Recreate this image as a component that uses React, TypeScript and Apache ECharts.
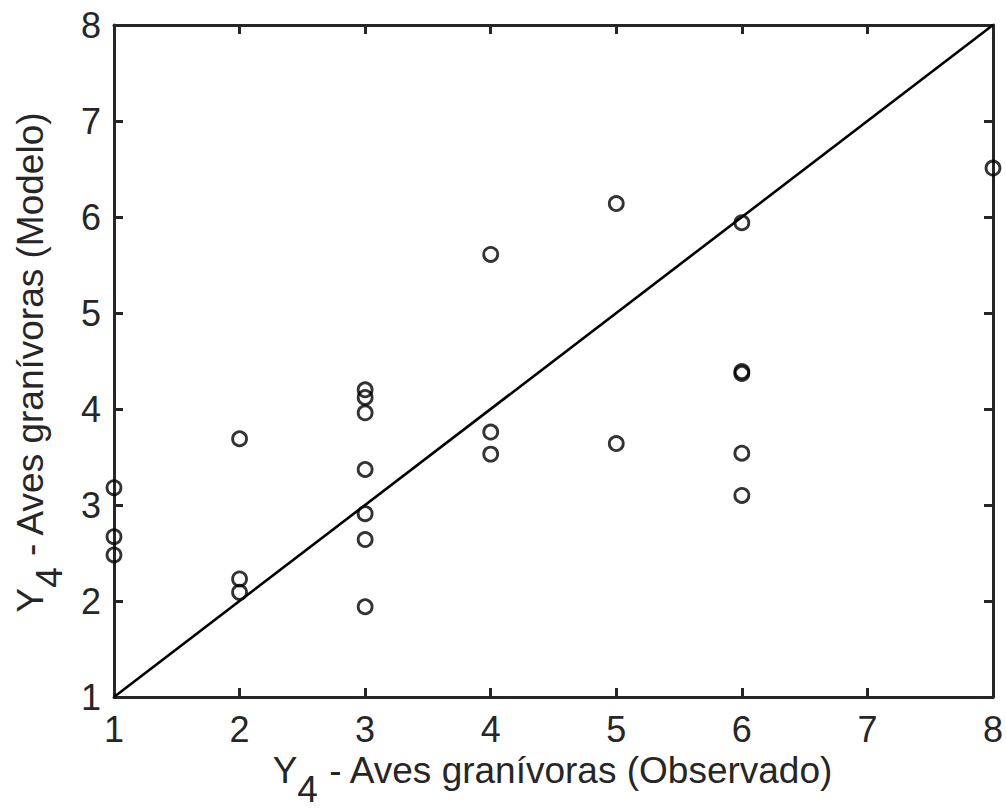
import React, { useEffect, useRef } from "react";
import * as echarts from "echarts";

const observed: number[] = [1, 1, 1, 2, 2, 2, 3, 3, 3, 3, 3, 3, 3, 4, 4, 4, 5, 5, 6, 6, 6, 6, 6, 8];
const modelled: number[] = [
  3.18, 2.67, 2.48,
  3.69, 2.23, 2.09,
  4.2, 4.12, 3.96, 3.37, 2.91, 2.64, 1.94,
  5.61, 3.76, 3.53,
  6.14, 3.64,
  5.94, 4.39, 4.37, 3.54, 3.1,
  6.51,
];
const identityLine: number[][] = [[1, 1], [8, 8]];
const axisMin = 1;
const axisMax = 8;
const xTitle = "{a|Y}{b|4}{a| - Aves granívoras (Observado)}";
const yTitle = "{a|Y}{b|4}{a| - Aves granívoras (Modelo)}";

const FONT = "'Liberation Sans', Arial, Helvetica, sans-serif";
const AXIS_COLOR = "#262626";

export default function App() {
  const ref = useRef<HTMLDivElement>(null);
  useEffect(() => {
    if (!ref.current) return;
    const chart = echarts.init(ref.current, null, { renderer: "svg" });
    const titleRich = {
      a: { fontSize: 37, lineHeight: 44, verticalAlign: "top", fontFamily: FONT, fill: AXIS_COLOR, color: AXIS_COLOR },
      b: { fontSize: 37, lineHeight: 44, padding: [19, 0, 0, 0], verticalAlign: "top", fontFamily: FONT, fill: AXIS_COLOR, color: AXIS_COLOR },
    };
    const mainAxis = (pos: string) => ({
      type: "value",
      position: pos,
      min: axisMin,
      max: axisMax,
      interval: 1,
      splitLine: { show: false },
      axisLine: { show: true, onZero: false, lineStyle: { color: AXIS_COLOR, width: 3 } },
      axisTick: { show: true, inside: true, length: 9, lineStyle: { color: AXIS_COLOR, width: 3 } },
      axisLabel: {
        show: pos === "bottom" || pos === "left",
        color: AXIS_COLOR,
        fontSize: 36,
        fontFamily: FONT,
        margin: pos === "bottom" ? 14 : 13,
      },
    });
    chart.setOption({
      animation: false,
      backgroundColor: "#ffffff",
      grid: { left: 114, right: 13, top: 25, bottom: 112, containLabel: false },
      xAxis: [mainAxis("bottom"), mainAxis("top")],
      yAxis: [mainAxis("left"), mainAxis("right")],
      graphic: [
        {
          type: "text",
          x: 553,
          y: 752,
          style: { text: xTitle, rich: titleRich, align: "center", verticalAlign: "top", fill: AXIS_COLOR, font: `37px ${FONT}` },
        },
        {
          type: "text",
          x: 12,
          y: 362,
          rotation: Math.PI / 2,
          style: { text: yTitle, rich: titleRich, align: "center", verticalAlign: "top", fill: AXIS_COLOR, font: `37px ${FONT}` },
        },
      ],
      series: [
        {
          type: "line",
          data: identityLine,
          showSymbol: false,
          lineStyle: { color: "#000", width: 2.6 },
          silent: true,
          z: 2,
        },
        {
          type: "scatter",
          data: observed.map((x, i) => [x, modelled[i]]),
          symbol: "circle",
          symbolSize: 14,
          clip: false,
          itemStyle: { color: "rgba(0,0,0,0)", borderColor: "#000", borderWidth: 2.8 },
          z: 3,
        },
      ],
    });
    return () => chart.dispose();
  }, []);
  return (
    <div
      ref={ref}
      style={{ position: "fixed", left: 0, top: 0, width: 1006, height: 809, background: "#fff" }}
    />
  );
}
